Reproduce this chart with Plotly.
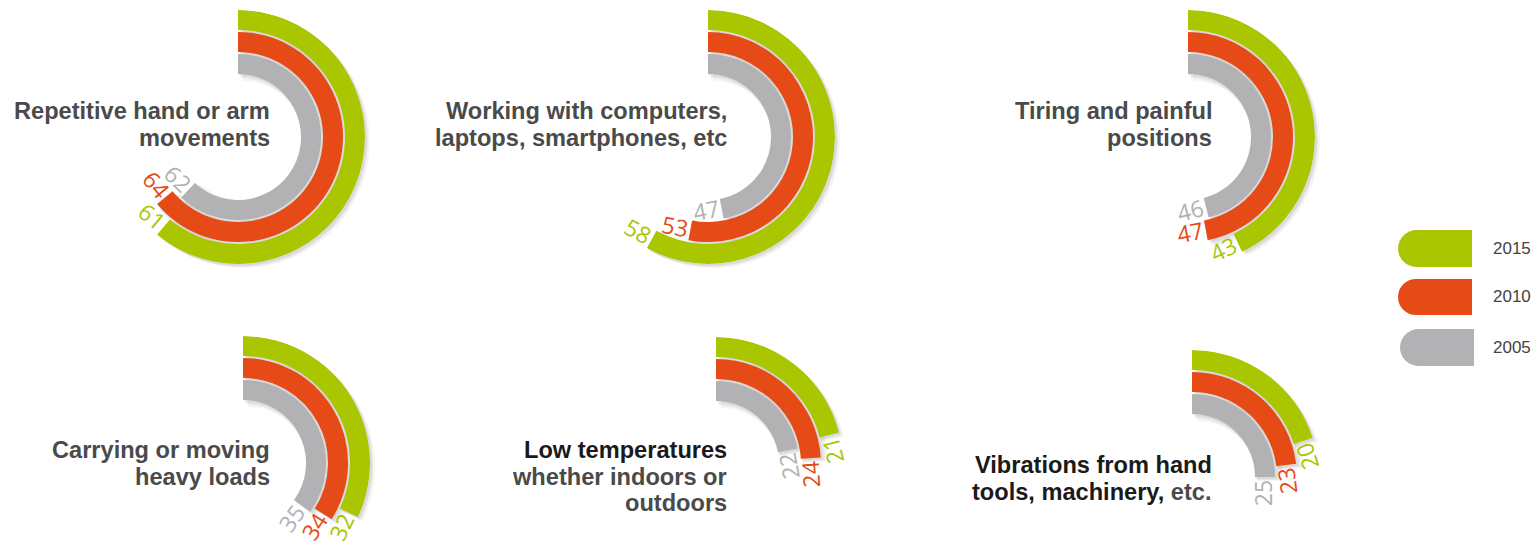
import math
import plotly.graph_objects as go

W, H = 1536, 552

DARK = "<span style='color:#1a1a1a'>{}</span>"
categories = [
    ["Repetitive hand or arm", "movements"],
    ["Working with computers,", "laptops, smartphones, etc"],
    ["Tiring and painful", "positions"],
    ["Carrying or moving", "heavy loads"],
    [DARK.format("Low temperatures"), "whether indoors or", "outdoors"],
    [DARK.format("Vibrations from hand"), DARK.format("tools, machinery,") + " etc."],
]
years = ["2015", "2010", "2005"]
v2015 = [61, 58, 43, 32, 21, 20]
v2010 = [64, 53, 47, 34, 24, 23]
v2005 = [62, 47, 46, 35, 22, 25]

colors = {"2015": "#AAC600", "2010": "#E64A17", "2005": "#B2B2B4"}
series = {"2015": v2015, "2010": v2010, "2005": v2005}
band_inner = {"2015": 107, "2010": 85, "2005": 63}
band_w = 20
R = 127

# layout positions (pixel centres of each radial group)
centers = [(238, 137), (708, 137), (1188, 137), (243, 463), (716, 464), (1192, 477)]
sectors = [[0, 360], [0, 360], [0, 360], [-40, 90], [0, 90], [0, 90]]
text_right = [272, 729, 1214, 272, 729, 1214]
text_first_y = [111, 111, 111, 450, 450, 465]
line_step = 26.5


def sector_bbox(sec):
    xs, ys = [0.0], [0.0]
    a = sec[0]
    while a <= sec[1] + 1e-9:
        xs.append(math.cos(math.radians(a)))
        ys.append(math.sin(math.radians(a)))
        a += 0.5
    return min(xs), max(xs), min(ys), max(ys)


def polar_layout(cx, cy, sec):
    x0, x1, y0, y1 = sector_bbox(sec)
    return dict(
        domain=dict(x=[max(0, (cx + R * x0) / W), min(1, (cx + R * x1) / W)],
                    y=[max(0, 1 - (cy - R * y0) / H), min(1, 1 - (cy - R * y1) / H)]),
        sector=sec,
        bgcolor="rgba(0,0,0,0)",
        radialaxis=dict(visible=False, range=[0, R]),
        angularaxis=dict(visible=False, rotation=90, direction="clockwise"),
    )


fig = go.Figure()
annotations = []
layout_polars = {}

for i, (cx, cy) in enumerate(centers):
    sec = sectors[i]
    # soft shadow layers
    for k, (dx, dy, alpha, grow) in enumerate([(5, 4, 0.04, 6), (3, 3, 0.05, 3), (2, 2, 0.06, 1)]):
        pname = f"polar{i*4 + k + 1}"
        layout_polars[pname] = polar_layout(cx + dx, cy + dy, sec)
        for y in years:
            v = series[y][i]
            fig.add_trace(go.Barpolar(
                r=[band_w + grow], base=[band_inner[y] - grow / 2], theta=[v * 1.8], width=[v * 3.6],
                marker=dict(color=f"rgba(0,0,0,{alpha})", line=dict(width=0)),
                subplot=pname, showlegend=False, hoverinfo="skip"))
    pname = f"polar{i*4 + 4}"
    layout_polars[pname] = polar_layout(cx, cy, sec)
    for y in years:
        v = series[y][i]
        fig.add_trace(go.Barpolar(
            r=[band_w], base=[band_inner[y]], theta=[v * 1.8], width=[v * 3.6],
            marker=dict(color=colors[y], line=dict(width=0)),
            subplot=pname, name=y, showlegend=False))
        # value label just past the end of the arc, rotated along it
        rm = band_inner[y] + band_w / 2
        ang = v * 3.6 + math.degrees(16 / rm)
        px = cx + rm * math.sin(math.radians(ang))
        py = cy - rm * math.cos(math.radians(ang))
        annotations.append(dict(
            x=px / W, y=1 - py / H, xref="paper", yref="paper", text=str(v),
            showarrow=False, textangle=v * 3.6 - 180, xanchor="center", yanchor="middle",
            font=dict(family="Open Sans", size=23, color=colors[y])))
    for j, line in enumerate(categories[i]):
        ly = text_first_y[i] + j * line_step
        annotations.append(dict(
            x=text_right[i] / W, y=1 - ly / H, xref="paper", yref="paper",
            text="<b>" + line + "</b>", showarrow=False, xanchor="right", yanchor="middle", align="right",
            font=dict(family="Liberation Sans", size=23.6, color="#4a4a4a"),
        ))

# legend swatches
shapes = []
leg = [("2015", 1398, 230, 267), ("2010", 1398, 279, 315), ("2005", 1400, 329, 366)]
for y, x0, y0, y1 in leg:
    h = y1 - y0
    shapes.append(dict(type="circle", xref="paper", yref="paper", x0=x0 / W, x1=(x0 + h) / W,
                       y0=1 - y1 / H, y1=1 - y0 / H, fillcolor=colors[y], line=dict(width=0)))
    shapes.append(dict(type="rect", xref="paper", yref="paper", x0=(x0 + h / 2) / W, x1=(x0 + 74) / W,
                       y0=1 - y1 / H, y1=1 - y0 / H, fillcolor=colors[y], line=dict(width=0)))
    annotations.append(dict(x=1491 / W, y=1 - (y0 + y1) / 2 / H, xref="paper", yref="paper", text=y,
                            showarrow=False, xanchor="left", yanchor="middle",
                            font=dict(family="Liberation Sans", size=17, color="#444444")))

fig.update_layout(
    width=W, height=H, margin=dict(l=0, r=0, t=0, b=0),
    paper_bgcolor="white", plot_bgcolor="white",
    annotations=annotations, shapes=shapes, showlegend=False,
    **layout_polars,
)
fig.write_html("out.html", config={"displayModeBar": False},
               post_script="document.body.style.margin='0';")
